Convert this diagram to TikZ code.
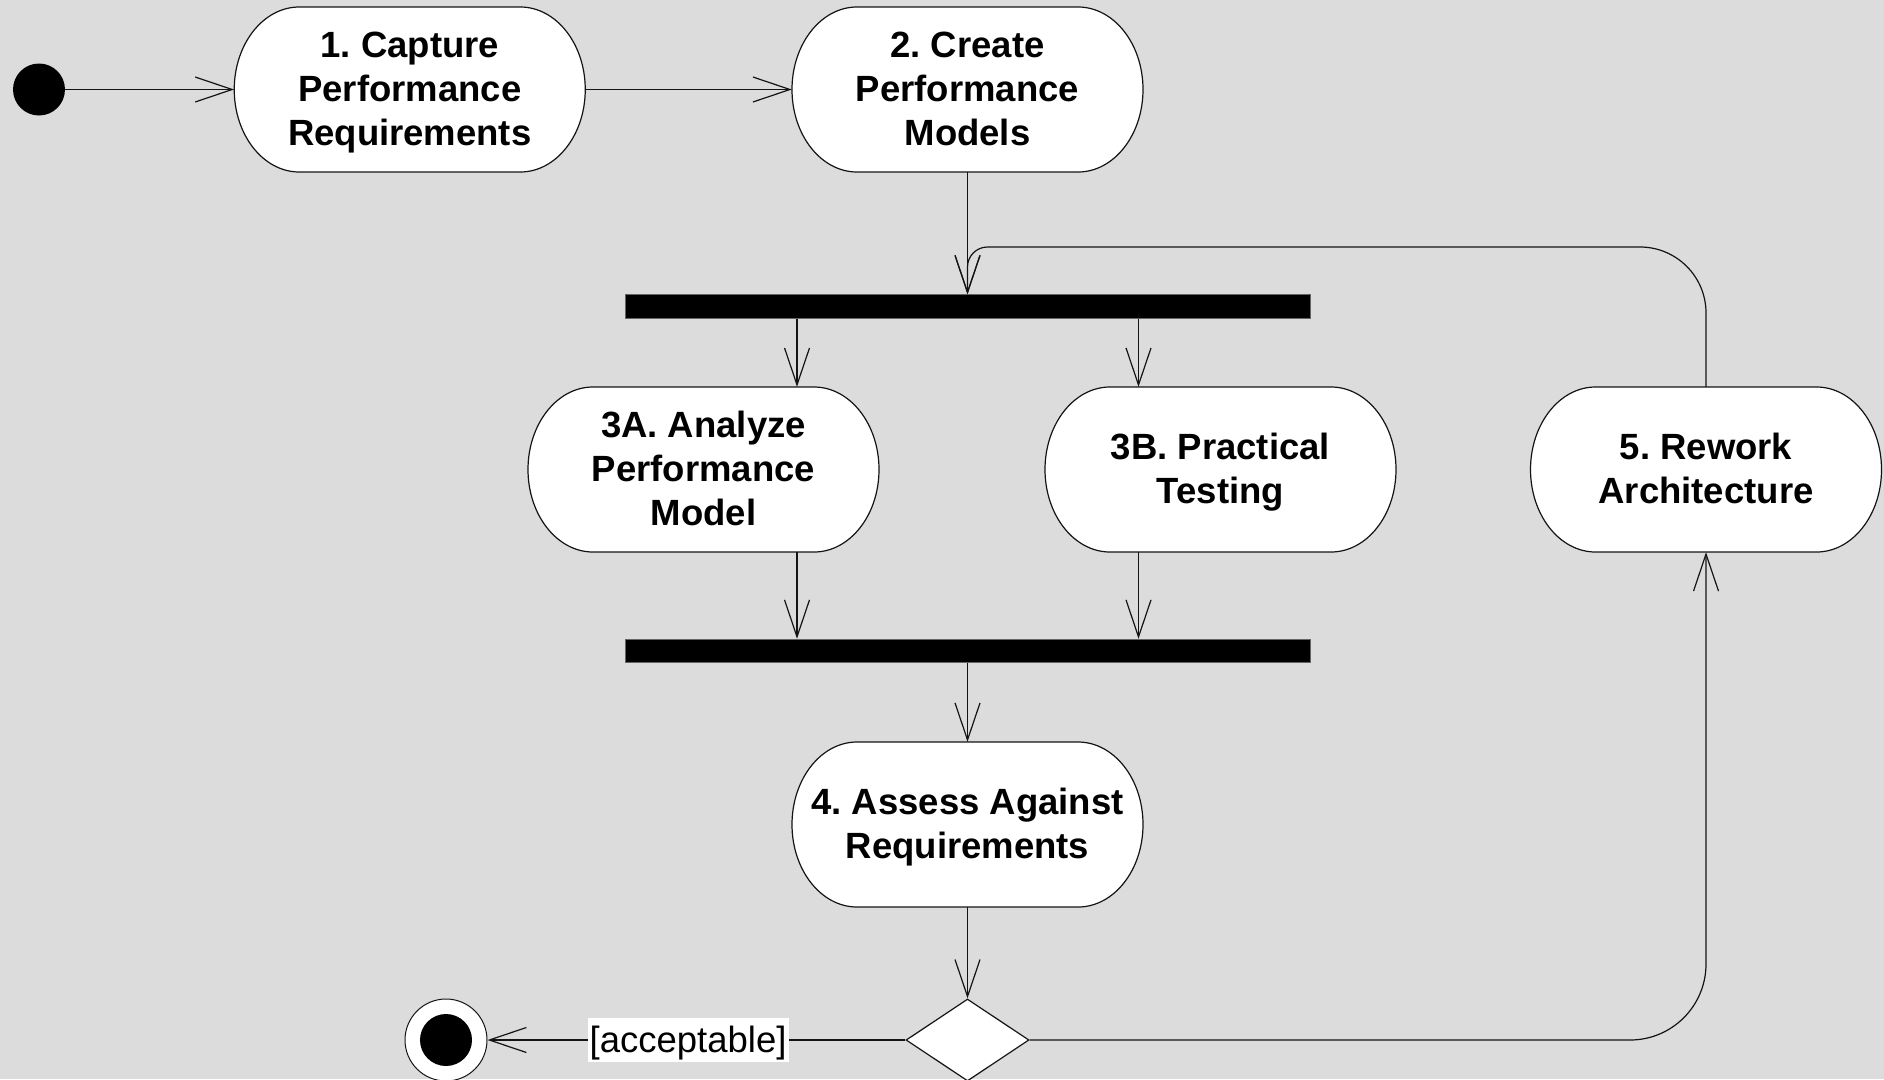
\documentclass[tikz,border=0pt]{standalone}
\usepackage{fontspec}
\setmainfont{Liberation Sans}
\usetikzlibrary{arrows.meta,shapes.geometric}
\definecolor{canvas}{RGB}{220,220,220}
\definecolor{barrim}{RGB}{100,100,100}
\definecolor{ink}{RGB}{20,20,20}
\frenchspacing

% half width, half height and end radius of an activity box
\def\stepHW{175.5}
\def\stepHH{82.5}
\def\stepRX{65}
% invisible rule giving every text line the same height and depth
\newcommand\stepstrut{\rule[-10pt]{0pt}{43pt}}

% activity: white box with elliptic ends, then the named text node on top
\newcommand\actstep[4]{%
  \path[stepshape] (#2-\stepHW+\stepRX, #3-\stepHH) -- (#2+\stepHW-\stepRX, #3-\stepHH)
    arc[start angle=-90, end angle=90, x radius=\stepRX, y radius=\stepHH]
    -- (#2-\stepHW+\stepRX, #3+\stepHH)
    arc[start angle=90, end angle=270, x radius=\stepRX, y radius=\stepHH] -- cycle;
  \node[steptext] (#1) at (#2,#3) {\stepstrut#4\stepstrut};
}

\begin{document}
\begin{tikzpicture}[x=1pt, y=-1pt,
  flow/.style={draw=ink, line width=1.2pt, -{Straight Barb[length=37pt, width=25pt]}},
  stepshape/.style={fill=white, draw=ink, line width=1.2pt},
  steptext/.style={shape=rectangle, inner sep=0pt, minimum width=351pt,
    minimum height=165pt, align=center,
    font=\bfseries\fontsize{36.5pt}{44pt}\selectfont},
  syncbar/.style={shape=rectangle, fill=black, draw=barrim, line width=1pt,
    inner sep=0pt, minimum width=685pt, minimum height=23.5pt},
  startdot/.style={shape=circle, fill=black, draw=none, inner sep=0pt, minimum size=52pt},
  finalring/.style={shape=circle, fill=white, draw=ink, line width=1pt, inner sep=0pt, minimum size=82pt},
  finaldot/.style={shape=circle, fill=black, draw=none, inner sep=0pt, minimum size=52pt},
  decision/.style={shape=diamond, fill=white, draw=ink, line width=1.2pt, inner sep=0pt,
    minimum width=123pt, minimum height=82pt},
  guard/.style={fill=white, inner xsep=2pt, inner ysep=2pt, text height=32.5pt,
    text depth=7.5pt, font=\fontsize{36.5pt}{40pt}\selectfont}
]
\useasboundingbox (0,0) rectangle (1884,1079);
\fill[canvas] (0,0) rectangle (1884,1079);

% columns of the fork / join branches
\coordinate (colA) at (797,0);
\coordinate (colB) at (1138.5,0);

% states and activities
\node[startdot] (start) at (39,89.5) {};
\actstep{cap}{409.75}{89.5}{1. Capture\\Performance\\Requirements}
\actstep{create}{967.5}{89.5}{2. Create\\Performance\\Models}
\node[syncbar] (bar1) at (967.5,306.5) {};
\actstep{anaA}{703.5}{469.5}{3A. Analyze\\Performance\\Model}
\actstep{test}{1220.5}{469.5}{3B. Practical\\Testing}
\actstep{rework}{1706}{469.5}{5. Rework\\Architecture}
\node[syncbar] (bar2) at (967.5,651) {};
\actstep{assess}{967.5}{824.5}{4. Assess Against\\Requirements}
\node[decision] (dec) at (967.5,1040) {};
\node[finalring] (end) at (446,1040) {};
\node[finaldot] (endDot) at (end.center) {};

% transitions
\draw[flow] (start) -- (cap);
\draw[flow] (cap) -- (create);
\draw[flow] (create) -- (bar1);
\draw[flow] (bar1.south -| colA) -- (anaA.north -| colA);
\draw[flow] (bar1.south -| colB) -- (test.north -| colB);
\draw[flow] (anaA.south -| colA) -- (bar2.north -| colA);
\draw[flow] (test.south -| colB) -- (bar2.north -| colB);
\draw[flow] (bar2) -- (assess);
\draw[flow] (assess) -- (dec);
\draw[flow] (dec) -- node[guard, pos=0.52] {[acceptable]} (end);
\draw[flow] (dec.east) -- (1630,1040) arc[start angle=90, end angle=0, radius=76] -- (rework.south);
\draw[flow] (rework.north) -- (1706,313) arc[start angle=0, end angle=-90, radius=66]
  -- (987.5,247) arc[start angle=-90, end angle=-180, radius=20] -- (bar1.north);
\end{tikzpicture}
\end{document}
